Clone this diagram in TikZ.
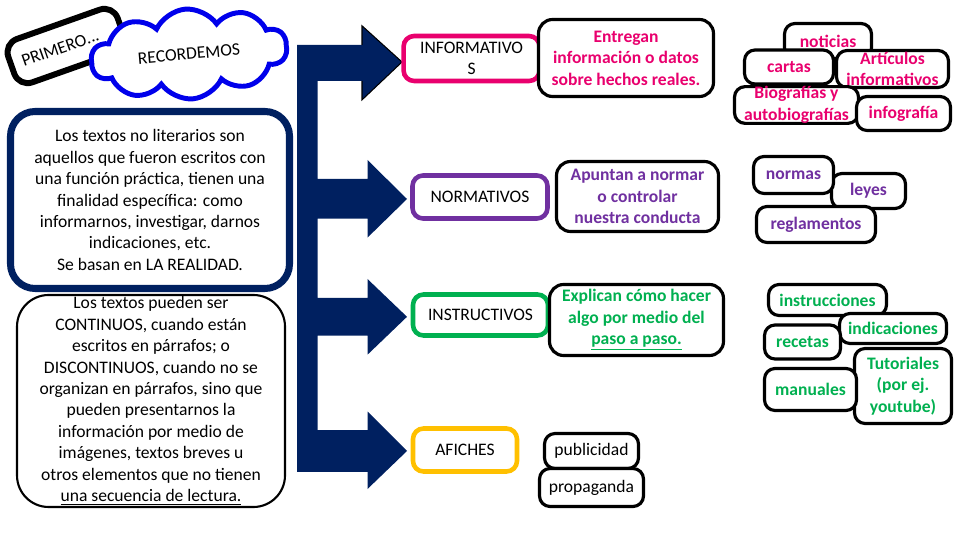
\documentclass[tikz,border=0pt]{standalone}
\usepackage{fontspec}
\setmainfont{Carlito}
\usetikzlibrary{shapes.symbols}
\definecolor{navy}{RGB}{0,32,96}
\definecolor{rosa}{RGB}{233,0,110}
\definecolor{morado}{RGB}{112,48,160}
\definecolor{verde}{RGB}{0,176,80}
\definecolor{amarillo}{RGB}{255,192,0}
\definecolor{azulnube}{RGB}{0,0,235}
\def\pxu{0.02cm}

\begin{document}
\begin{tikzpicture}[x=\pxu,y=-\pxu,
  every node/.style={font=\fontsize{10}{12.2}\selectfont, align=center, inner sep=0pt},
  wh/.style 2 args={minimum width=#1*\pxu, minimum height=#2*\pxu}]
\useasboundingbox (0,0) rectangle (960,540);

% left column
\node[draw, line width=3.4pt, rounded corners=8pt, rotate=19.5, wh={116}{46}] (primero) at (66,46) {PRIMERO...\hspace*{7pt}};
\node[cloud, cloud puffs=10, cloud puff arc=120, aspect=2.4, draw=azulnube, fill=white, line width=2.8pt, rotate=5,
  inner sep=0pt, wh={196}{90}] (nube) at (189,54) {RECORDEMOS};

\node[draw=navy, line width=4pt, rounded corners=14pt, fill=white, wh={279}{177}] (realidad) at (150,200)
  {Los textos no literarios son\\ aquellos que fueron escritos con\\ una función práctica, tienen una\\
   finalidad específica: como\\ informarnos, investigar, darnos\\ indicaciones, etc.\\ Se basan en LA REALIDAD.};
\node[draw, line width=1.2pt, rounded corners=18pt, wh={268}{212}] (continuos) at (151,401)
  {Los textos pueden ser\\ CONTINUOS, cuando están\\ escritos en párrafos; o\\ DISCONTINUOS, cuando no se\\
   organizan en párrafos, sino que\\ pueden presentarnos la\\ información por medio de\\
   imágenes, textos breves u\\ otros elementos que no tienen\\ \underline{una secuencia de lectura.}};

% big arrow
\fill[navy] (297,44.8) -- (362,44.8) -- (362,25.8) -- (402,62) -- (362,99.9) -- (362,80.9) -- (317.5,80.9)
  -- (317.5,179) -- (367.5,179) -- (367.5,160) -- (407,199) -- (367.5,237.6) -- (367.5,218.7) -- (317.5,218.7)
  -- (317.5,297.9) -- (367.5,297.9) -- (367.5,279) -- (407,316.8) -- (367.5,354.7) -- (367.5,335.7) -- (317.5,335.7)
  -- (317.5,430) -- (367.5,430) -- (367.5,411.5) -- (407,451) -- (367.5,489) -- (367.5,471.8) -- (297,471.8) -- cycle;
\draw[black, line width=0.6pt] (362,44.8) -- (362,25.8) -- (402,62) -- (362,99.9) -- (362,80.9);

% categories
\tikzset{CatStyle/.style={draw=#1, line width=2.6pt, rounded corners=6pt, fill=white}}
\node[CatStyle=rosa, wh={136}{45}] (informativos) at (471.6,58.5) {INFORMATIVO\\S};
\node[CatStyle=morado, wh={135}{43}] (normativos) at (480,197) {NORMATIVOS};
\node[CatStyle=verde, wh={135}{41}] (instructivos) at (480.5,315) {INSTRUCTIVOS};
\node[CatStyle=amarillo, wh={104}{43}] (afiches) at (465,450) {AFICHES};

% descriptions
\tikzset{DescStyle/.style={draw=black, line width=1.8pt, rounded corners=8pt, fill=white, text=#1,
  font=\fontsize{10}{12.2}\selectfont\bfseries}}
\node[DescStyle=rosa, wh={175}{77}] (entregan) at (626,58) {Entregan\\ información o datos\\ sobre hechos reales.};
\node[DescStyle=morado, wh={162}{70}] (apuntan) at (637.5,196.5) {Apuntan a normar\\ o controlar\\ nuestra conducta};
\node[DescStyle=verde, wh={174}{71}] (explican) at (636.5,320) {Explican cómo hacer\\ algo por medio del\\ \underline{paso a paso.}};
\tikzset{DescStyle/.style={draw=black, line width=1.8pt, rounded corners=6pt, fill=white, text=black}}
\node[DescStyle, wh={94}{35}] (publicidad) at (591.5,451) {publicidad};
\node[DescStyle, wh={104}{38}] (propaganda) at (591.5,487.5) {propaganda};

% examples
\tikzset{EjStyle/.style={draw=black, line width=1.8pt, rounded corners=6pt, fill=white, text=#1,
  font=\fontsize{10}{12.2}\selectfont\bfseries}}
\node[EjStyle=rosa, wh={87}{35}] (noticias) at (828,41) {noticias};
\node[EjStyle=rosa, wh={89}{34}] (cartas) at (789,67) {cartas};
\node[EjStyle=rosa, wh={112}{37}] (articulos) at (892.5,69) {Artículos\\ informativos};
\node[EjStyle=rosa, wh={124}{35}] (biografias) at (796.5,105) {Biografías y\\ autobiografías};
\node[EjStyle=rosa, wh={94}{34}] (infografia) at (903.5,113.5) {infografía};

\node[EjStyle=morado, wh={74}{35}] (leyes) at (868.5,191) {leyes};
\node[EjStyle=morado, wh={80}{37}] (normas) at (793.5,175) {normas};
\node[EjStyle=morado, wh={119}{36}] (reglamentos) at (816,224.5) {reglamentos};

\node[EjStyle=verde, wh={118}{31}] (instrucciones) at (827.5,300) {instrucciones};
\node[EjStyle=verde, wh={107}{30}] (indicaciones) at (893,328.5) {indicaciones};
\node[EjStyle=verde, wh={76}{34}] (recetas) at (802.5,342) {recetas};
\node[EjStyle=verde, wh={97}{75}] (tutoriales) at (903,386) {Tutoriales\\ (por ej.\\ youtube)};
\node[EjStyle=verde, wh={92}{42}] (manuales) at (810.5,389.5) {manuales};

\end{tikzpicture}
\end{document}
